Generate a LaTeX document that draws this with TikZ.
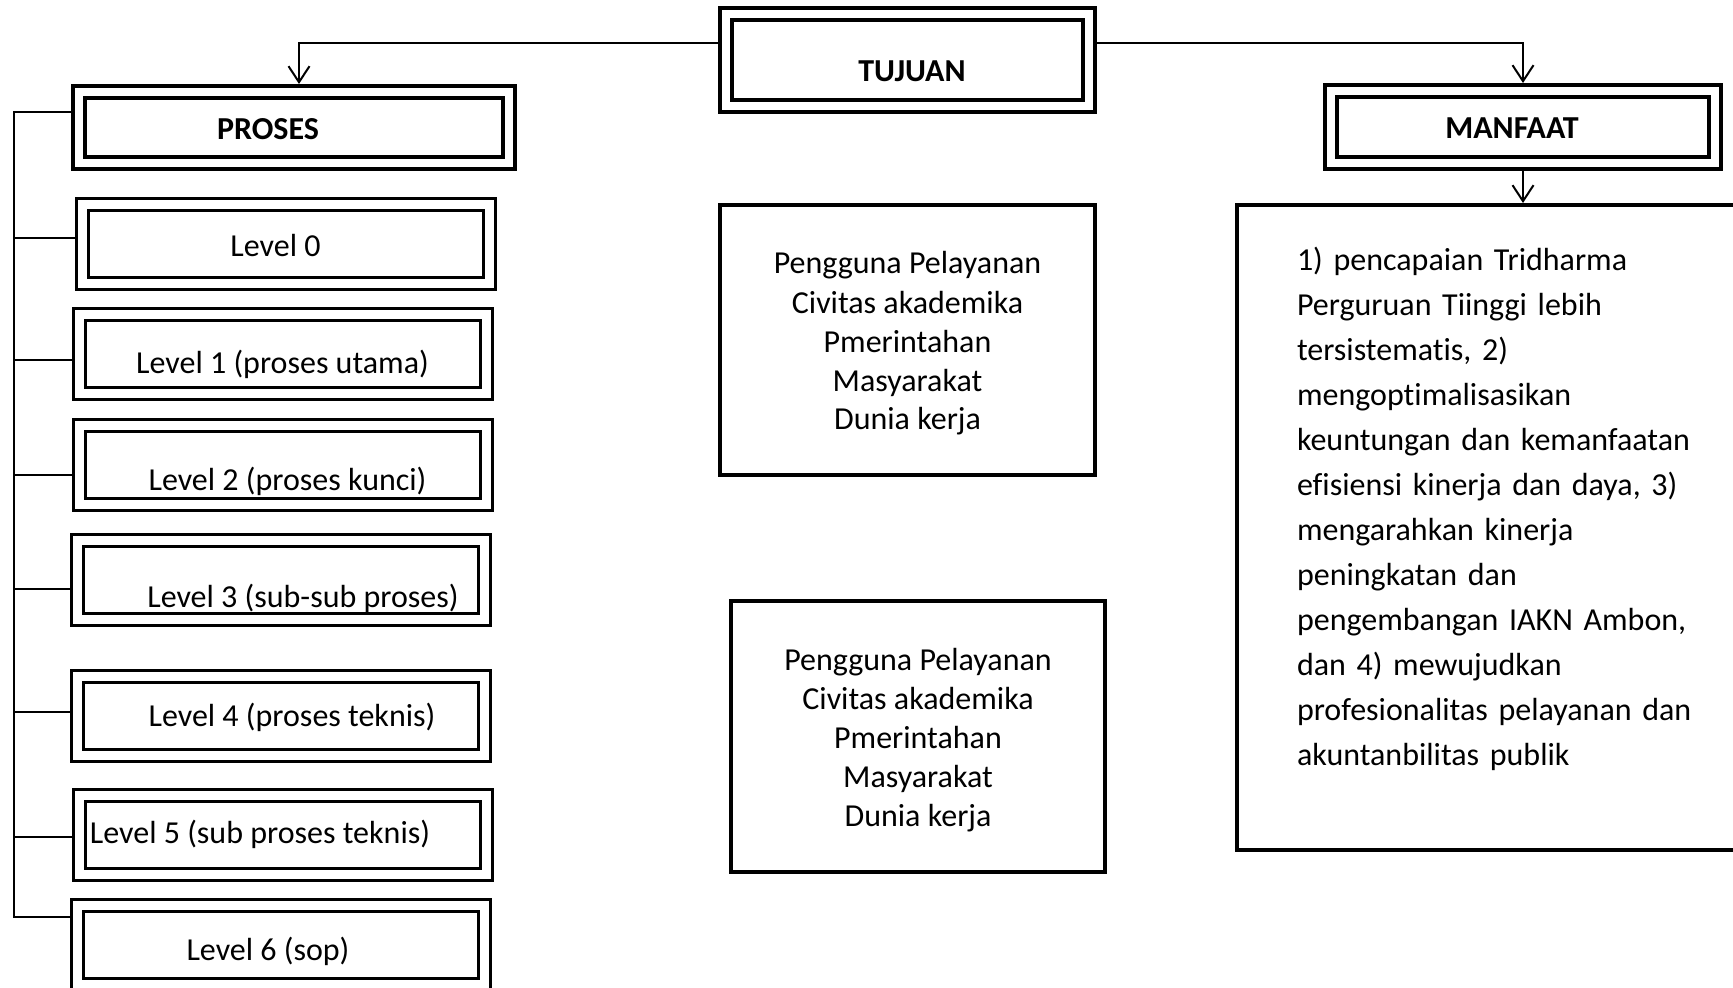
\documentclass[tikz,border=0pt]{standalone}
\usepackage{fontspec}
\setmainfont{Carlito}[Ligatures=NoCommon]
\usetikzlibrary{arrows.meta}

\begin{document}
\begin{tikzpicture}[x=0.5pt,y=-0.5pt,
head/.style={draw=black, line width=2pt, double=white, double distance=4pt, outer sep=4pt, inner sep=1pt, font=\fontsize{16pt}{19.5pt}\selectfont\bfseries, text height=16pt, text depth=4pt},
level/.style={draw=black, line width=1.5pt, double=white, double distance=4.5pt, outer sep=3.75pt, inner sep=1pt, minimum width=203.5pt, minimum height=39.5pt, font=\fontsize{16pt}{19.5pt}\selectfont, text height=16pt, text depth=4pt},
info/.style={draw=black, line width=2pt, align=center, minimum width=187.5pt, minimum height=135pt, font=\fontsize{16pt}{19.5pt}\selectfont, text height=94pt, text depth=4pt},
isi/.style={draw=black, line width=2pt, align=left, text width=206.5pt, minimum width=266.5pt, minimum height=322.5pt, font=\fontsize{16pt}{22.5pt}\selectfont, text height=12pt, text depth=268.5pt}]

\tikzset{conn/.style={line width=1pt}, arr/.style={conn, -{Straight Barb[length=8pt,width=10.5pt]}}}

\useasboundingbox (0,0) rectangle (1733,988);

\node[head, minimum width=181.5pt, minimum height=46pt, text height=25.3pt] (tuj) at (907.5,60) {\hspace*{4.5pt}TUJUAN};
\node[head, minimum width=215pt, minimum height=35.5pt] (pro) at (294,127.5) {\hspace*{-26pt}PROSES};
\node[head, minimum width=192pt, minimum height=36pt] (man) at (1523,127) {\hspace*{-11pt}MANFAAT};

\node[level] (l0) at (285.5,244.5) {\hspace*{-10pt}Level 0};
\node[level, text height=23.5pt] (l1) at (282.5,354) {Level 1 (proses utama)};
\node[level, text height=29.5pt] (l2) at (282.5,465) {\hspace*{5pt}Level 2 (proses kunci)};
\node[level, text height=31.5pt] (l3) at (281,580) {\hspace*{22pt}Level 3 (sub-sub proses)};
\node[level, text height=15pt] (l4) at (281,715.5) {\hspace*{11pt}Level 4 (proses teknis)};
\node[level, text height=13pt] (l5) at (283,834.5) {\hspace*{-23pt}Level 5 (sub proses teknis)};
\node[level, text height=19.5pt] (l6) at (281,945) {\hspace*{-13pt}Level 6 (sop)};

\node[info] (peng1) at (907.5,340) {Pengguna Pelayanan\\Civitas akademika\\Pmerintahan\\Masyarakat\\Dunia kerja};
\node[info, minimum width=187pt, minimum height=135.5pt] (peng2) at (918,736.5) {Pengguna Pelayanan\\Civitas akademika\\Pmerintahan\\Masyarakat\\Dunia kerja};

\node[isi] (isi) at (1503.5,527.5) {1) pencapaian Tridharma\\Perguruan Tiinggi lebih\\tersistematis, 2)\\mengoptimalisasikan\\keuntungan dan kemanfaatan\\efisiensi kinerja dan daya, 3)\\mengarahkan kinerja\\peningkatan dan\\pengembangan IAKN Ambon,\\dan 4) mewujudkan\\profesionalitas pelayanan dan\\akuntanbilitas publik};

\draw[arr] ([yshift=8.5pt]tuj.west) -| ([xshift=2.5pt]pro.north);
\draw[arr] ([yshift=8.5pt]tuj.east) -| (man.north);
\draw[arr] (man.south) -- (man.south |- isi.north);

\coordinate (spine) at (14,112);
\draw[conn] ([yshift=7.75pt]pro.west) -| (spine) |- ([yshift=14pt]l6.west);
\draw[conn] ([yshift=3.25pt]l0.west) -- ([yshift=3.25pt]spine |- l0.west);
\draw[conn] ([yshift=-3pt]l1.west) -- ([yshift=-3pt]spine |- l1.west);
\draw[conn] ([yshift=-5pt]l2.west) -- ([yshift=-5pt]spine |- l2.west);
\draw[conn] ([yshift=-4.5pt]l3.west) -- ([yshift=-4.5pt]spine |- l3.west);
\draw[conn] ([yshift=1.75pt]l4.west) -- ([yshift=1.75pt]spine |- l4.west);
\draw[conn] ([yshift=-1.25pt]l5.west) -- ([yshift=-1.25pt]spine |- l5.west);

\end{tikzpicture}
\end{document}
